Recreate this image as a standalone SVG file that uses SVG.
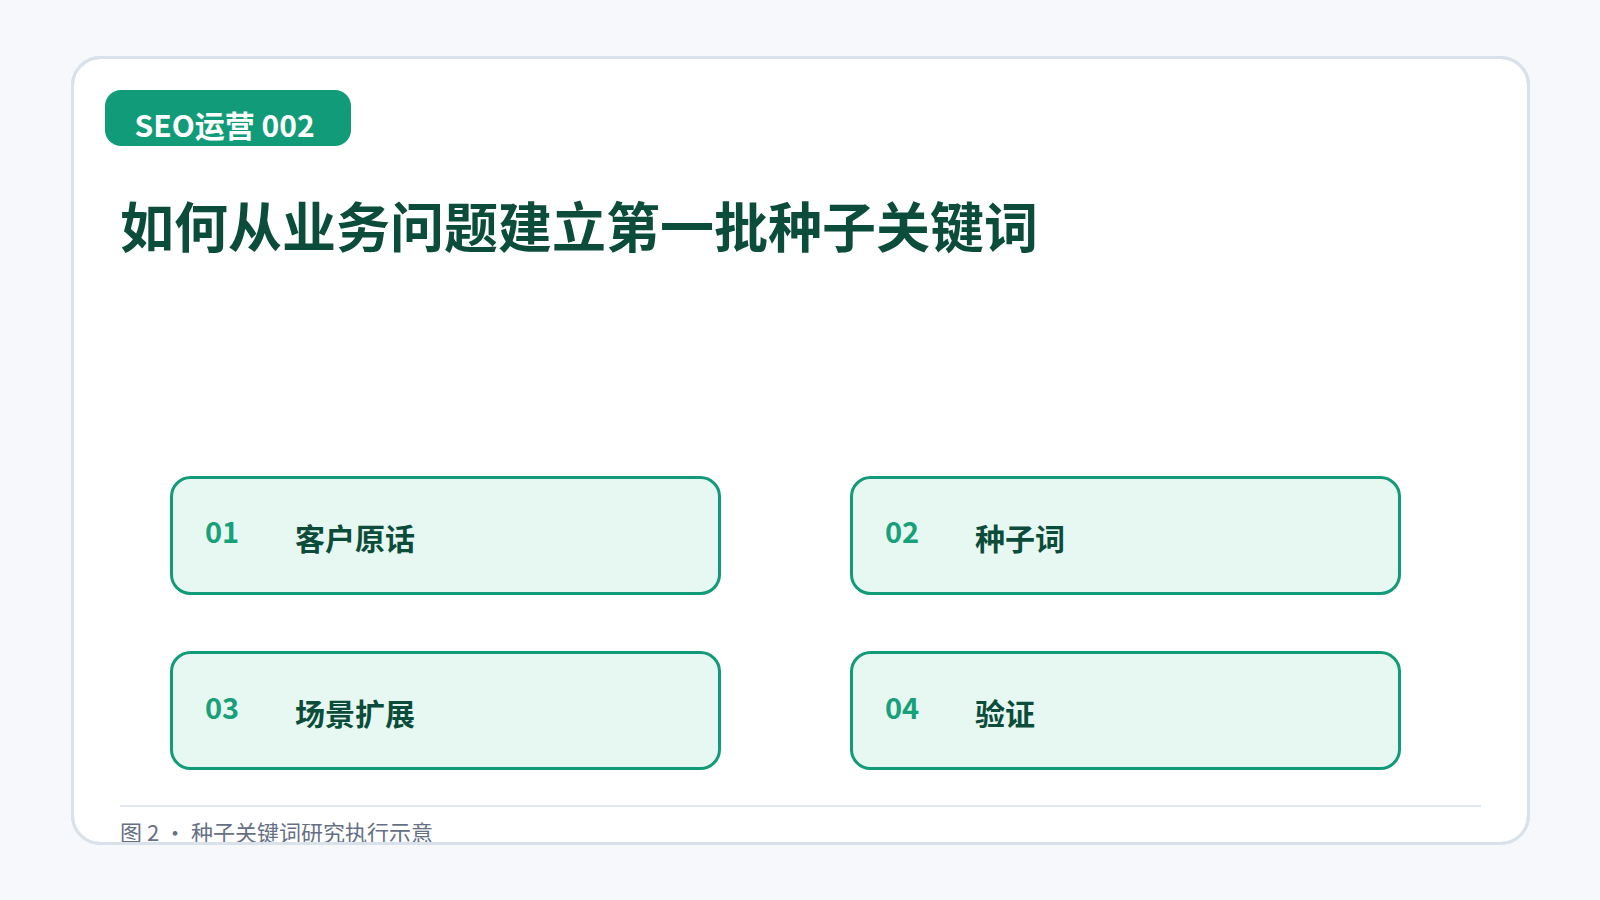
<svg xmlns="http://www.w3.org/2000/svg" width="1600" height="900" viewBox="0 0 1600 900">
<defs>
<style>
.bg{fill:#f6f8fb}
.card{fill:#ffffff;stroke:#d9e1ea;stroke-width:3}
.badge{fill:#129b78}
.badge-t{font-family:"Noto Sans CJK SC","Noto Sans",sans-serif;font-weight:700;font-size:30px;fill:#ffffff}
.title{font-family:"Noto Sans CJK SC",sans-serif;font-weight:700;font-size:54px;fill:#0b4d3a}
.box{fill:#e7f7f1;stroke:#129b78;stroke-width:3}
.num{font-family:"Noto Sans CJK SC","Noto Sans",sans-serif;font-weight:700;font-size:29px;fill:#17a07a}
.lab{font-family:"Noto Sans CJK SC",sans-serif;font-weight:700;font-size:30px;fill:#0b4d3a}
.cap{font-family:"Noto Sans CJK SC",sans-serif;font-size:22px;fill:#667085}
.rule{stroke:#e2e8f0;stroke-width:2}
</style>
<clipPath id="cardclip"><rect x="72.5" y="57.5" width="1456" height="786" rx="28"/></clipPath>
</defs>
<rect class="bg" x="0" y="0" width="1600" height="900"/>
<g id="card">
<rect class="card" x="72.5" y="57.5" width="1456" height="786" rx="28"/>
</g>
<g id="badge">
<rect class="badge" x="105" y="90" width="246" height="56" rx="16"/>
<text class="badge-t" x="134.5" y="136.5">SEO运营 002</text>
</g>
<g id="title">
<text class="title" x="120" y="248">如何从业务问题建立第一批种子关键词</text>
</g>
<g id="connectors"></g>
<g id="node-01">
<rect class="box" x="171.5" y="477.5" width="548" height="116" rx="19"/>
<text class="num" x="205" y="543">01</text>
<text class="lab" x="295" y="550">客户原话</text>
</g>
<g id="node-02">
<rect class="box" x="851.5" y="477.5" width="548" height="116" rx="19"/>
<text class="num" x="885" y="543">02</text>
<text class="lab" x="975" y="550">种子词</text>
</g>
<g id="node-03">
<rect class="box" x="171.5" y="652.5" width="548" height="116" rx="19"/>
<text class="num" x="205" y="719">03</text>
<text class="lab" x="295" y="725">场景扩展</text>
</g>
<g id="node-04">
<rect class="box" x="851.5" y="652.5" width="548" height="116" rx="19"/>
<text class="num" x="885" y="719">04</text>
<text class="lab" x="975" y="725">验证</text>
</g>
<g id="caption" clip-path="url(#cardclip)">
<line class="rule" x1="120" y1="806" x2="1481" y2="806"/>
<text class="cap" x="120" y="841">图 2 · 种子关键词研究执行示意</text>
</g>
<rect x="72.5" y="57.5" width="1456" height="786" rx="28" fill="none" stroke="#d9e1ea" stroke-width="3"/>
</svg>
